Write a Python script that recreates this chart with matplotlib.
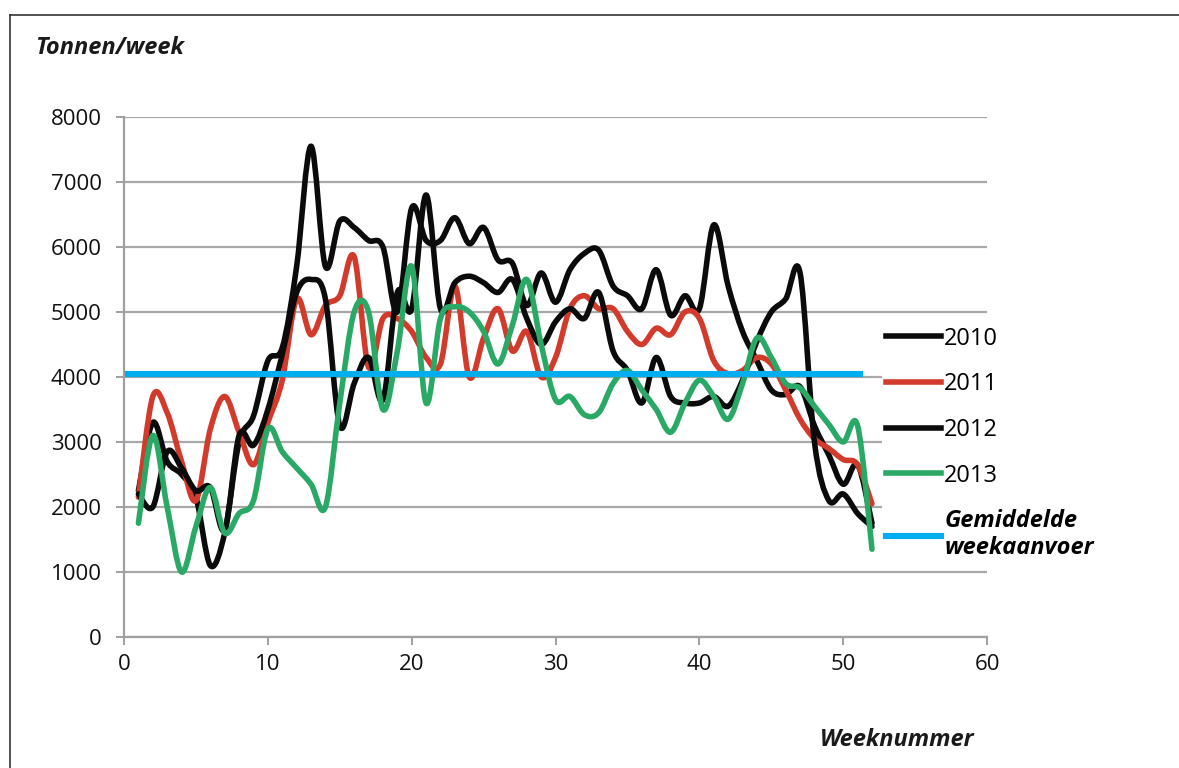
import matplotlib
matplotlib.use("Agg")
import matplotlib.pyplot as plt
import numpy as np
from matplotlib.lines import Line2D
from matplotlib.path import Path
from matplotlib.patches import PathPatch

# Weekaanvoer in tonnen per week
weeks = list(range(1, 53))

y2010 = [2250, 3300, 2700, 2500, 2150, 1100, 1600, 3000, 3400, 4250,
         4450, 5700, 7550, 5700, 6400, 6300, 6100, 6000, 5000, 6600,
         6100, 6100, 6450, 6050, 6300, 5800, 5750, 5100, 5600, 5150,
         5650, 5900, 5950, 5400, 5250, 5050, 5650, 4950, 5250, 5050,
         6340, 5400, 4700, 4250, 3800, 3730, 3850, 3250, 2800, 2350,
         2650, 1750]

y2011 = [2150, 3700, 3450, 2700, 2100, 3200, 3700, 3150, 2650, 3300,
         3950, 5200, 4650, 5100, 5250, 5850, 4150, 4900, 4900, 4700,
         4300, 4200, 5400, 4000, 4600, 5050, 4400, 4700, 4000, 4300,
         5050, 5250, 5050, 5050, 4700, 4500, 4750, 4650, 5000, 4900,
         4250, 4050, 4100, 4300, 4200, 3800, 3350, 3050, 2900, 2730,
         2650, 2050]

y2012 = [2200, 2000, 2850, 2600, 2250, 2300, 1650, 3100, 2950, 3500,
         4350, 5300, 5500, 5200, 3250, 3900, 4300, 3650, 5300, 5050,
         6800, 5050, 5450, 5550, 5450, 5300, 5500, 4900, 4500, 4850,
         5050, 4900, 5300, 4400, 4100, 3600, 4300, 3700, 3600, 3600,
         3700, 3550, 3950, 4550, 5000, 5200, 5600, 3000, 2100, 2200,
         1900, 1700]

y2013 = [1750, 3100, 2000, 1000, 1700, 2300, 1600, 1900, 2100, 3200,
         2850, 2600, 2350, 2000, 3600, 5000, 5000, 3500, 4400, 5700,
         3600, 4900, 5080, 5000, 4700, 4200, 4800, 5500, 4500, 3650,
         3700, 3420, 3450, 3900, 4100, 3800, 3500, 3150, 3600, 3950,
         3700, 3350, 3900, 4600, 4300, 3900, 3830, 3550, 3270, 3000,
         3250, 1350]

avg_weeks = [0.3, 51.2]
avg_value = 4040

series = [("2010", y2010, "#0b0b0b"),
          ("2011", y2011, "#d23a2c"),
          ("2012", y2012, "#0b0b0b"),
          ("2013", y2013, "#2aa866")]

LW = 4.0


def smooth_path(x, y):
    """Vloeiende lijn door de punten (zoals 'vloeiende lijn' in Excel)."""
    pts = np.column_stack([x, y]).astype(float)
    ext = np.vstack([pts[0], pts, pts[-1]])
    verts = [pts[0]]
    codes = [Path.MOVETO]
    for i in range(len(pts) - 1):
        p0, p1, p2, p3 = ext[i], ext[i + 1], ext[i + 2], ext[i + 3]
        verts += [p1 + (p2 - p0) / 6, p2 - (p3 - p1) / 6, p2]
        codes += [Path.CURVE4] * 3
    return Path(verts, codes)


plt.rcParams["font.family"] = ["Open Sans", "DejaVu Sans"]

fig = plt.figure(figsize=(11.79, 7.68), dpi=100)
ax = fig.add_axes([0.1052, 0.1706, 0.7320, 0.6771])

handles = []
for label, vals, color in series:
    ax.add_patch(PathPatch(smooth_path(weeks, vals), facecolor="none",
                           edgecolor=color, lw=LW, capstyle="round",
                           joinstyle="round", zorder=3))
    handles.append(Line2D([], [], color=color, lw=LW, label=label))
avg_line, = ax.plot(avg_weeks, [avg_value] * 2, color="#00aeef", lw=4.4,
                    label="Gemiddelde\nweekaanvoer", zorder=4)
handles.append(avg_line)

ax.set_xlim(0, 60)
ax.set_ylim(0, 8000)
ax.set_xticks(range(0, 61, 10))
ax.set_yticks(range(0, 8001, 1000))
ax.grid(axis="y", color="#a8a8a8", lw=1.6, zorder=0)
ax.set_axisbelow(True)
for side in ("top", "right"):
    ax.spines[side].set_visible(False)
for side in ("left", "bottom"):
    ax.spines[side].set_color("#a0a0a0")
    ax.spines[side].set_linewidth(1.6)
ax.tick_params(axis="y", length=6, width=1.4, color="#a0a0a0",
               labelsize=16, labelcolor="#111111", pad=10)
ax.tick_params(axis="x", length=6, width=1.4, color="#a0a0a0",
               labelsize=16, labelcolor="#111111", pad=6)

leg = ax.legend(handles=handles, loc="upper left",
                bbox_to_anchor=(0.878, 0.606),
                frameon=True, facecolor="white", edgecolor="none",
                framealpha=1, fontsize=17, handlelength=2.3,
                handletextpad=0.15, labelspacing=0.92, borderpad=0.2,
                borderaxespad=0)
last = leg.get_texts()[-1]
last.set_style("italic")
last.set_weight("bold")
last.set_linespacing(1.15)

fig.text(35 / 1179, 1 - 48 / 768, "Tonnen/week", fontsize=17,
         style="italic", weight="bold", color="#1a1a1a", va="center")
fig.text(975 / 1179, 1 - 740 / 768, "Weeknummer", fontsize=17,
         style="italic", weight="bold", color="#1a1a1a", va="center",
         ha="right")

# kader om de figuur
fig.add_artist(Line2D([10 / 1179, 1], [1 - 15 / 768] * 2,
                      color="#333333", lw=1.2, transform=fig.transFigure))
fig.add_artist(Line2D([10 / 1179] * 2, [0, 1 - 15 / 768],
                      color="#333333", lw=1.2, transform=fig.transFigure))

fig.savefig("out.png", dpi=100, facecolor="white")
